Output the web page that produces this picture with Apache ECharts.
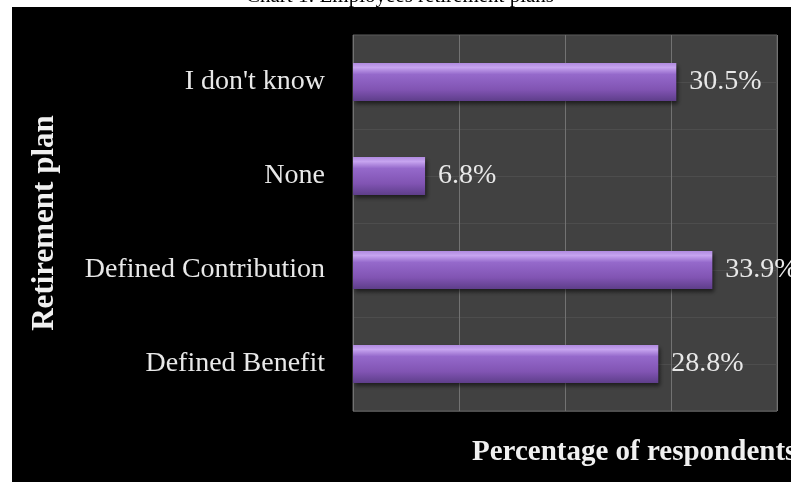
<!DOCTYPE html>
<html>
<head>
<meta charset="utf-8">
<script src="https://cdn.jsdelivr.net/npm/echarts@6/dist/echarts.min.js"></script>
<style>html,body{margin:0;padding:0;background:#fff;}#c{width:791px;height:482px;}</style>
</head>
<body>
<div id="c"></div>
<script>
const categories = ["Defined Benefit", "Defined Contribution", "None", "I don't know"];
const values = [28.8, 33.9, 6.8, 30.5];
const xTicks = [0, 10, 20, 30, 40];

const chart = echarts.init(document.getElementById('c'), null, {renderer: 'canvas'});
const serif = '"Liberation Serif", "Times New Roman", serif';
chart.setOption({
  animation: false,
  backgroundColor: '#000',
  graphic: [
    {type: 'rect', left: 0, top: 0, shape: {width: 791, height: 7}, style: {fill: '#fff'}, z: 10},
    {type: 'rect', left: 0, top: 0, shape: {width: 12, height: 482}, style: {fill: '#fff'}, z: 10},
    {type: 'text', z: 11, style: {text: 'Chart 1: Employees retirement plans', x: 400, y: 6.5, textAlign: 'center', textVerticalAlign: 'bottom', font: '21px ' + serif, fill: '#000'}},
    {type: 'text', z: 11, style: {text: 'Percentage of respondents', x: 472, y: 453, textAlign: 'left', textVerticalAlign: 'middle', font: 'bold 29px ' + serif, fill: '#f0f0f0'}}
  ],
  grid: {left: 353, right: 14, top: 35, bottom: 71, show: true, backgroundColor: '#414141', borderColor: '#5e5e5e', borderWidth: 1},
  xAxis: {
    type: 'value', min: xTicks[0], max: xTicks[xTicks.length - 1], interval: 10,
    axisLabel: {show: false}, axisLine: {show: false}, axisTick: {show: false},
    splitLine: {show: true, lineStyle: {color: '#727272', width: 1}}
  },
  yAxis: [{
    type: 'category', data: categories,
    axisLine: {show: false}, axisTick: {show: false},
    splitLine: {show: false},
    axisLabel: {color: '#e8e8e8', fontFamily: serif, fontSize: 28, margin: 28},
    name: 'Retirement plan', nameLocation: 'middle', nameGap: 293,
    nameTextStyle: {color: '#f0f0f0', fontFamily: serif, fontSize: 31, fontWeight: 'bold'}
  }, {
    type: 'value', min: 0, max: 8, interval: 1, position: 'right',
    axisLabel: {show: false}, axisLine: {show: false}, axisTick: {show: false},
    splitLine: {show: true, lineStyle: {color: '#4d4d4d', width: 1}}
  }],
  series: [{
    type: 'bar', data: values, yAxisIndex: 0, barWidth: 38,
    itemStyle: {
      color: new echarts.graphic.LinearGradient(0, 0, 0, 1, [
        {offset: 0, color: '#b08ae0'},
        {offset: 0.12, color: '#c6a4ef'},
        {offset: 0.3, color: '#9569cb'},
        {offset: 0.7, color: '#8154b3'},
        {offset: 1, color: '#5e3e8a'}
      ]),
      shadowColor: 'rgba(0,0,0,0.55)', shadowOffsetY: 3, shadowOffsetX: 2, shadowBlur: 4
    },
    label: {show: true, position: 'right', distance: 13, formatter: p => p.value.toFixed(1) + '%',
      color: '#e8e8e8', fontFamily: serif, fontSize: 28}
  }]
});
</script>
</body>
</html>
